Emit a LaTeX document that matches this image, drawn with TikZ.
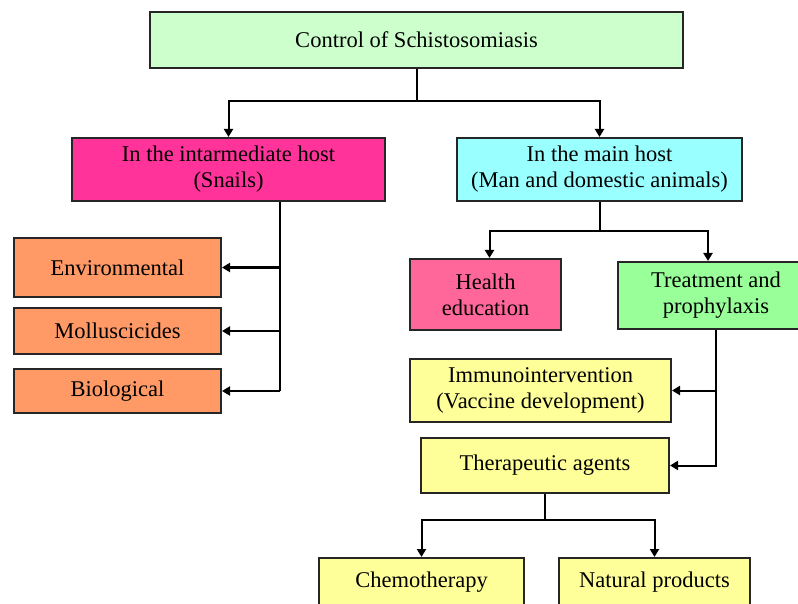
\documentclass[tikz,border=0pt]{standalone}
\usepackage{fontspec}
\setmainfont{Liberation Serif}
\usetikzlibrary{arrows.meta}
\definecolor{topgreen}{HTML}{CCFFCC}
\definecolor{snailpink}{HTML}{FF3399}
\definecolor{hostcyan}{HTML}{99FFFF}
\definecolor{methodorange}{HTML}{FF9966}
\definecolor{healthpink}{HTML}{FF6699}
\definecolor{treatgreen}{HTML}{99FF99}
\definecolor{agentyellow}{HTML}{FFFF99}
\begin{document}
\begin{tikzpicture}[x=1pt, y=-1pt,
    box/.style={draw=black!85, line width=2pt, align=center, inner sep=0pt,
        font=\fontsize{22.5}{26}\selectfont, text=black},
    arr/.style={line width=2pt, -{Triangle[length=8pt, width=9pt]}},
    bus/.style={line width=2pt}]
    \useasboundingbox (0, 0) rectangle (798, 604);
    \clip (0, 0) rectangle (798, 604);
    \node[box, fill=topgreen, minimum width=533, minimum height=56] (control) at (416.5, 40) {Control of Schistosomiasis};
    \node[box, fill=snailpink, minimum width=313, minimum height=63] (inter) at (228.5, 169.5) {In the intarmediate host\\(Snails)};
    \node[box, fill=hostcyan, minimum width=285, minimum height=63] (mainhost) at (599.5, 169.5) {In the main host\\(Man and domestic animals)};
    \node[box, fill=methodorange, minimum width=207, minimum height=59] (environ) at (117.5, 267.5) {Environmental};
    \node[box, fill=methodorange, minimum width=207, minimum height=46] (mollus) at (117.5, 331) {Molluscicides};
    \node[box, fill=methodorange, minimum width=207, minimum height=44] (bio) at (117.5, 391) {Biological};
    \node[box, fill=healthpink, minimum width=151, minimum height=71] (health) at (485.5, 294.5) {Health\\education};
    \node[box, fill=treatgreen, minimum width=196, minimum height=67] (treat) at (716, 295.5) {Treatment and\\prophylaxis};
    \node[box, fill=agentyellow, minimum width=261, minimum height=63] (immuno) at (540.5, 390.5) {Immunointervention\\(Vaccine development)};
    \node[box, fill=agentyellow, minimum width=248, minimum height=55] (thera) at (545, 465.5) {Therapeutic agents};
    \node[box, fill=agentyellow, minimum width=205, minimum height=48] (chemo) at (421.5, 582) {Chemotherapy};
    \node[box, fill=agentyellow, minimum width=191, minimum height=48] (natural) at (654.5, 582) {Natural products};
    \draw[bus] (control.south) -- ++(0, 32) coordinate (csplit);
    \draw[arr] (csplit) -| (inter.north);
    \draw[arr] (csplit) -| (mainhost.north);
    \coordinate (ibus) at (280, 391);
    \draw[bus] (inter.south -| ibus) -- (ibus);
    \draw[arr] (environ.east -| ibus) -- (environ.east);
    \draw[arr] (mollus.east -| ibus) -- (mollus.east);
    \draw[arr] (bio.east -| ibus) -- (bio.east);
    \draw[bus] (mainhost.south) -- ++(0, 29) coordinate (msplit);
    \draw[arr] (msplit) -| ([xshift=4pt]health.north);
    \draw[arr] (msplit) -| ([xshift=-8pt]treat.north);
    \draw[arr] (treat.south) |- (thera.east);
    \draw[arr] (immuno.east -| treat.south) -- (immuno.east);
    \draw[bus] (thera.south) -- ++(0, 26) coordinate (tsplit);
    \draw[arr] (tsplit) -| (chemo.north);
    \draw[arr] (tsplit) -| (natural.north);
\end{tikzpicture}
\end{document}
